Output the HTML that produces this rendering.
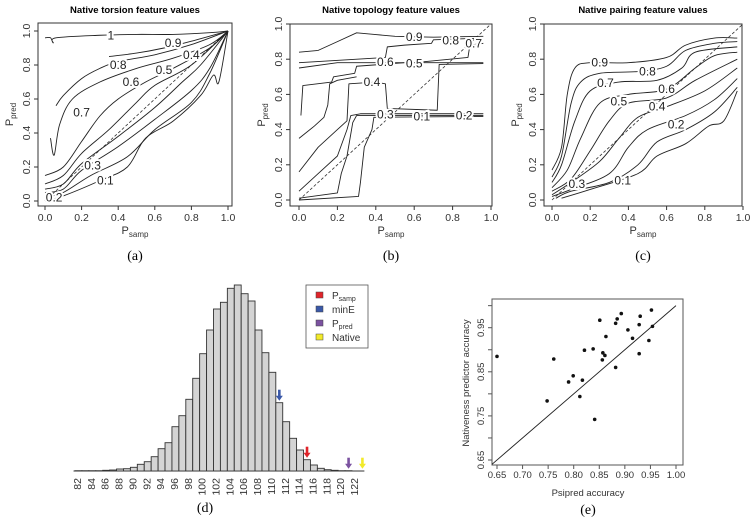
<!DOCTYPE html>
<html><head><meta charset="utf-8"><style>
html,body{margin:0;padding:0;background:#fff;}
svg{display:block;font-family:"Liberation Sans",sans-serif;}
.cap{font-family:"Liberation Serif",serif;font-size:14px;}
</style></head><body>
<svg id="fig" width="753" height="531" viewBox="0 0 753 531"></svg>
<script>
// ---------- DATA ----------
const contourLevelsA = ["1","0.9","0.8","0.7","0.6","0.5","0.4","0.3","0.2","0.1"];
const contourA = [
 [[0,0.96],[0.03,0.96],[0.045,0.93],[0.06,0.96],[0.3,0.975],[0.5,0.98],[0.7,0.98],[0.9,0.99],[1,1]],
 [[0.35,0.85],[0.5,0.87],[0.65,0.9],[0.8,0.94],[1,1]],
 [[0.06,0.56],[0.1,0.62],[0.2,0.72],[0.3,0.78],[0.4,0.82],[0.6,0.86],[0.8,0.92],[1,1]],
 [[0.03,0.37],[0.05,0.27],[0.08,0.45],[0.15,0.6],[0.3,0.7],[0.5,0.78],[0.7,0.84],[0.9,0.92],[1,1]],
 [[0,0.15],[0.1,0.2],[0.2,0.35],[0.3,0.5],[0.4,0.6],[0.55,0.7],[0.7,0.78],[0.9,0.9],[1,1]],
 [[0,0.1],[0.1,0.15],[0.2,0.28],[0.35,0.42],[0.5,0.58],[0.6,0.68],[0.8,0.8],[1,1]],
 [[0,0.07],[0.1,0.1],[0.2,0.22],[0.4,0.38],[0.6,0.55],[0.75,0.7],[0.85,0.8],[1,1]],
 [[0,0.05],[0.1,0.07],[0.2,0.18],[0.4,0.32],[0.6,0.48],[0.8,0.65],[0.9,0.78],[1,1]],
 [[0,0.02],[0.1,0.05],[0.25,0.15],[0.45,0.26],[0.6,0.42],[0.8,0.58],[0.9,0.75],[1,1]],
 [[0,0],[0.1,0.03],[0.3,0.12],[0.45,0.2],[0.55,0.37],[0.7,0.47],[0.85,0.62],[0.92,0.74],[0.95,0.7],[1,1]]
];
const labelPosA = [[0.36,0.975],[0.7,0.93],[0.4,0.8],[0.2,0.52],[0.47,0.7],[0.65,0.77],[0.8,0.86],[0.26,0.21],[0.05,0.02],[0.33,0.12]];

const contourLevelsB = ["0.9","0.8","0.7","0.6","0.5","0.4","0.3","0.1","0.2"];
const contourB = [
 [[0,0.84],[0.1,0.85],[0.2,0.9],[0.3,0.95],[0.4,0.94],[0.5,0.93],[0.7,0.925],[0.96,0.93]],
 [[0,0.78],[0.45,0.81],[0.46,0.87],[0.55,0.88],[0.69,0.89],[0.7,0.91],[0.96,0.92]],
 [[0,0.75],[0.2,0.78],[0.6,0.78],[0.88,0.81],[0.89,0.88],[0.96,0.89]],
 [[0.01,0.48],[0.02,0.65],[0.17,0.67],[0.18,0.7],[0.29,0.72],[0.3,0.76],[0.55,0.78],[0.96,0.78]],
 [[0,0.35],[0.08,0.42],[0.13,0.47],[0.15,0.54],[0.16,0.66],[0.2,0.68],[0.3,0.7]],
 [[0,0.16],[0.1,0.3],[0.2,0.4],[0.25,0.45],[0.26,0.66],[0.4,0.67],[0.45,0.66],[0.46,0.52],[0.72,0.51],[0.73,0.77],[0.96,0.775]],
 [[0,0.05],[0.1,0.15],[0.2,0.25],[0.25,0.4],[0.27,0.48],[0.32,0.49],[0.96,0.49]],
 [[0,0.01],[0.2,0.04],[0.22,0.15],[0.25,0.25],[0.28,0.44],[0.3,0.48],[0.96,0.48]],
 [[0,0.0],[0.31,0.02],[0.32,0.1],[0.34,0.3],[0.38,0.4],[0.39,0.47],[0.96,0.475]]
];
const labelPosB = [[0.6,0.925],[0.79,0.905],[0.91,0.89],[0.45,0.785],[0.6,0.775],[0.38,0.67],[0.45,0.485],[0.64,0.475],[0.86,0.48]];

const contourLevelsC = ["0.9","0.8","0.7","0.6","0.5","0.4","0.3","0.2","0.1"];
const contourC = [
 [[0,0.17],[0.05,0.3],[0.08,0.6],[0.12,0.75],[0.2,0.78],[0.4,0.78],[0.6,0.81],[0.7,0.88],[0.85,0.92],[0.97,0.92]],
 [[0,0.13],[0.05,0.25],[0.1,0.55],[0.15,0.67],[0.25,0.72],[0.45,0.73],[0.6,0.76],[0.7,0.85],[0.85,0.89],[0.97,0.9]],
 [[0,0.1],[0.05,0.2],[0.12,0.45],[0.2,0.62],[0.35,0.67],[0.55,0.68],[0.68,0.75],[0.75,0.84],[0.97,0.87]],
 [[0,0.07],[0.08,0.17],[0.15,0.35],[0.25,0.55],[0.4,0.6],[0.6,0.63],[0.75,0.75],[0.85,0.82],[0.97,0.84]],
 [[0,0.05],[0.1,0.12],[0.2,0.28],[0.3,0.45],[0.4,0.55],[0.6,0.58],[0.75,0.68],[0.97,0.8]],
 [[0,0.03],[0.1,0.1],[0.25,0.22],[0.35,0.35],[0.45,0.47],[0.6,0.53],[0.8,0.62],[0.97,0.75]],
 [[0,0.02],[0.1,0.06],[0.3,0.15],[0.4,0.3],[0.5,0.4],[0.7,0.48],[0.85,0.57],[0.97,0.69]],
 [[0.02,0.01],[0.1,0.05],[0.3,0.1],[0.45,0.2],[0.55,0.33],[0.7,0.4],[0.85,0.5],[0.97,0.64]],
 [[0.05,0.01],[0.2,0.06],[0.45,0.15],[0.55,0.25],[0.7,0.32],[0.82,0.42],[0.9,0.45],[0.97,0.62]]
];
const labelPosC = [[0.25,0.78],[0.5,0.73],[0.28,0.665],[0.6,0.63],[0.35,0.56],[0.55,0.53],[0.13,0.09],[0.65,0.43],[0.37,0.11]];

const histCategories = [82,83,84,85,86,87,88,89,90,91,92,93,94,95,96,97,98,99,100,101,102,103,104,105,106,107,108,109,110,111,112,113,114,115,116,117,118,119,120,121,122,123];
const histCounts = [0.3,0.3,0.3,0.3,0.7,1,2,2.3,3.7,6.7,9.3,14.3,22.3,28.3,44.3,55.3,71.7,92.7,117.3,141,162,168.7,182.7,186,177.3,170,141,118.3,98.7,68.3,49.3,32.7,21,11.3,6,2.7,1.3,0.7,0.3,0.3,0,0];
const histTicks = [82,84,86,88,90,92,94,96,98,100,102,104,106,108,110,112,114,116,118,120,122];
const arrowNames = ["minE","Psamp","Ppred","Native"];
const arrowValues = [111,115,121,123];
const arrowHeights = [68.3,11.3,0.3,0.3];
const arrowColors = ["#3a58a8","#e0242a","#7b52a0","#f2ea2a"];

const scatterX = [0.65,0.748,0.761,0.790,0.799,0.812,0.817,0.821,0.838,0.841,0.851,0.857,0.856,0.861,0.863,0.882,0.882,0.885,0.893,0.906,0.915,0.928,0.930,0.928,0.947,0.952,0.954];
const scatterY = [0.885,0.784,0.879,0.827,0.841,0.794,0.831,0.899,0.902,0.742,0.967,0.893,0.877,0.887,0.930,0.960,0.860,0.970,0.982,0.945,0.926,0.957,0.976,0.891,0.921,0.990,0.953];
const scatterXTicks = ["0.65","0.70","0.75","0.80","0.85","0.90","0.95","1.00"];
const scatterYTicks = ["0.65","0.75","0.85","0.95"];

// ---------- HELPERS ----------
const NS="http://www.w3.org/2000/svg";
const svg=document.getElementById('fig');
function el(tag,attrs,parent,text){const e=document.createElementNS(NS,tag);for(const k in attrs)e.setAttribute(k,attrs[k]);if(text!==undefined)e.textContent=text;(parent||svg).appendChild(e);return e;}
function smoothPath(pts){
  let d='M'+pts[0][0]+','+pts[0][1];
  for(let i=0;i<pts.length-1;i++){
    const p0=pts[Math.max(0,i-1)],p1=pts[i],p2=pts[i+1],p3=pts[Math.min(pts.length-1,i+2)];
    const c1=[p1[0]+(p2[0]-p0[0])/6,p1[1]+(p2[1]-p0[1])/6];
    const c2=[p2[0]-(p3[0]-p1[0])/6,p2[1]-(p3[1]-p1[1])/6];
    d+=` C${c1[0]},${c1[1]} ${c2[0]},${c2[1]} ${p2[0]},${p2[1]}`;
  }
  return d;
}

function contourPanel(cfg){
  const g=el('g',{});
  
  
  const sx=v=>cfg.x0+(cfg.x1-cfg.x0)*v, sy=v=>cfg.y0+(cfg.y1-cfg.y0)*v;
  const t=el('text',{x:(cfg.bl+cfg.br)/2,y:13,'text-anchor':'middle','font-size':'9.5','font-weight':'bold'},g,cfg.title);
  
  
  const box=el('rect',{x:cfg.bl,y:cfg.bt,width:cfg.br-cfg.bl,height:cfg.bb-cfg.bt,fill:'none',stroke:'#333','stroke-width':1},g);
  
  
  const clipId='clip'+cfg.name;
  const cp=el('clipPath',{id:clipId},g);el('rect',{x:cfg.bl,y:cfg.bt,width:cfg.br-cfg.bl,height:cfg.bb-cfg.bt},cp);
  const d=el('line',{x1:sx(0),y1:sy(0),x2:sx(1),y2:sy(1),stroke:'#333','stroke-dasharray':'3,2','stroke-width':0.8,'clip-path':`url(#${clipId})`},g);
  
  
  cfg.curves.forEach((c,i)=>{
    const pts=c.map(q=>[sx(q[0]),sy(q[1])]);
    const p=cfg.smooth
      ? el('path',{d:smoothPath(pts),fill:'none',stroke:'#222','stroke-width':0.9},g)
      : el('polyline',{points:pts.map(q=>q.join(',')).join(' '),fill:'none',stroke:'#222','stroke-width':0.9,'stroke-linejoin':'round'},g);
    
    
  });
  cfg.labels.forEach((q,i)=>{
    const tl=el('text',{x:sx(q[0]),y:sy(q[1])+4,'text-anchor':'middle','font-size':'12',fill:'#222',stroke:'#fff','stroke-width':4,'paint-order':'stroke'},g,cfg.levels[i]);
    
    
  });
  [0,0.2,0.4,0.6,0.8,1].forEach(v=>{
    el('line',{x1:sx(v),y1:cfg.bb,x2:sx(v),y2:cfg.bb+4,stroke:'#333'},g);
    const xl=el('text',{x:sx(v),y:cfg.bb+15,'text-anchor':'middle','font-size':'10.5',fill:'#333'},g,v.toFixed(1));
    
    
    el('line',{x1:cfg.bl,y1:sy(v),x2:cfg.bl-4,y2:sy(v),stroke:'#333'},g);
    const yl=el('text',{x:0,y:0,'text-anchor':'middle','font-size':'10.5',fill:'#333',transform:`translate(${cfg.bl-8},${sy(v)}) rotate(-90)`},g,v.toFixed(1));
    
    
  });
  const xt=el('text',{x:(cfg.bl+cfg.br)/2,y:cfg.bb+28,'text-anchor':'middle','font-size':'11',fill:'#333'},g);
  
  
  xt.innerHTML='P<tspan font-size="8" dy="3">samp</tspan>';
  const yt=el('text',{x:0,y:0,'text-anchor':'middle','font-size':'11',fill:'#333',transform:`translate(${cfg.bl-25},${(cfg.bt+cfg.bb)/2}) rotate(-90)`},g);
  
  
  yt.innerHTML='P<tspan font-size="8" dy="3">pred</tspan>';
  const cap=el('text',{x:(cfg.bl+cfg.br)/2,y:260,'text-anchor':'middle',class:'cap'},g,cfg.cap);
  
  
}

contourPanel({name:'panel-a-torsion',title:'Native torsion feature values',cap:'(a)',bl:38,br:232,bt:23,bb:206,x0:45,x1:228,y0:201,y1:31,curves:contourA,levels:contourLevelsA,labels:labelPosA,smooth:true});
contourPanel({name:'panel-b-topology',title:'Native topology feature values',cap:'(b)',bl:290,br:492,bt:24,bb:206,x0:299,x1:491,y0:200,y1:24,curves:contourB,levels:contourLevelsB,labels:labelPosB,smooth:false});
contourPanel({name:'panel-c-pairing',title:'Native pairing feature values',cap:'(c)',bl:544,br:742,bt:24,bb:206,x0:552,x1:743,y0:200,y1:24,curves:contourC,levels:contourLevelsC,labels:labelPosC,smooth:true});

// ---------- HISTOGRAM ----------
(function(){
  const g=el('g',{});
  
  
  const hx=v=>77+(v-82)*6.925, base=471, hy=c=>base-c;
  el('line',{x1:hx(81.5),y1:base,x2:hx(123.5),y2:base,stroke:'#333','stroke-width':1},g);
  histCategories.forEach((c,i)=>{
    const h=histCounts[i];
    const r=el('rect',{x:hx(c)-2,y:hy(h),width:6.9,height:h,fill:'#d4d4d4',stroke:'#333','stroke-width':0.9},g);
    
    
  });
  histTicks.forEach(t=>{
    const tl=el('text',{x:0,y:0,'text-anchor':'end','font-size':'10.5',fill:'#333',transform:`translate(${hx(t)+4},${478}) rotate(-90)`},g,String(t));
    
    
  });
  arrowValues.forEach((v,i)=>{
    const x=hx(v)+1.5, yb=hy(arrowHeights[i])-2;
    const a=el('g',{},g);
    
    
    el('rect',{x:x-1.3,y:yb-11,width:2.6,height:7,fill:arrowColors[i]},a);
    el('polygon',{points:`${x-3.5},${yb-5} ${x+3.5},${yb-5} ${x},${yb}`,fill:arrowColors[i]},a);
  });
  const lg=el('g',{},g);
  
  
  el('rect',{x:306,y:285,width:62,height:63,fill:'#fff',stroke:'#555','stroke-width':0.8},lg);
  const legendColors=["#e0242a","#3a58a8","#7b52a0","#f2ea2a"];
  const legendLabels=['P<tspan font-size="7" dy="2">samp</tspan>','minE','P<tspan font-size="7" dy="2">pred</tspan>','Native'];
  legendLabels.forEach((l,i)=>{
    const y=297+i*14;
    const e=el('g',{},lg);
    
    
    el('rect',{x:316,y:y-5,width:7,height:6,fill:legendColors[i],stroke:'#444','stroke-width':0.5},e);
    const t=el('text',{x:332,y:y+2,'font-size':'10',fill:'#333'},e);
    t.innerHTML=l;
  });
  const cap=el('text',{x:205,y:512,'text-anchor':'middle',class:'cap'},g,'(d)');
  
  
})();

// ---------- SCATTER ----------
(function(){
  const g=el('g',{});
  
  
  const sx=v=>497+(v-0.65)/0.05*25.57, sy=v=>327.7-(v-0.95)/0.1*44.1;
  const L=492,R=683,T=299,B=465;
  const f=el('rect',{x:L,y:T,width:R-L,height:B-T,fill:'none',stroke:'#555','stroke-width':1},g);
  
  
  const cp=el('clipPath',{id:'clipE'},g);el('rect',{x:L,y:T,width:R-L,height:B-T},cp);
  const dl=el('line',{x1:sx(0.6),y1:sy(0.6),x2:sx(1),y2:sy(1),stroke:'#222','stroke-width':0.9,'clip-path':'url(#clipE)'},g);
  
  
  scatterX.forEach((x,i)=>{
    const c=el('circle',{cx:sx(x),cy:sy(scatterY[i]),r:1.8,fill:'#111'},g);
    
    
  });
  scatterXTicks.forEach(t=>{
    const v=parseFloat(t);
    el('line',{x1:sx(v),y1:B,x2:sx(v),y2:B+4,stroke:'#555'},g);
    const tl=el('text',{x:sx(v),y:B+13,'text-anchor':'middle','font-size':'9.5',fill:'#333'},g,t);
    
    
  });
  for(let k=0;k<8;k++){const v=0.65+k*0.05;el('line',{x1:L,y1:sy(v),x2:L-4,y2:sy(v),stroke:'#555'},g);}
  scatterYTicks.forEach(t=>{
    const v=parseFloat(t);
    const tl=el('text',{x:0,y:0,'text-anchor':'middle','font-size':'9.5',fill:'#333',transform:`translate(${L-8},${sy(v)}) rotate(-90)`},g,t);
    
    
  });
  const xt=el('text',{x:588,y:496,'text-anchor':'middle','font-size':'9.5',fill:'#333'},g,'Psipred accuracy');
  
  
  const yt=el('text',{x:0,y:0,'text-anchor':'middle','font-size':'9.5',fill:'#333',transform:'translate(469,383) rotate(-90)'},g,'Nativeness predictor accuracy');
  
  
  const cap=el('text',{x:588,y:514,'text-anchor':'middle',class:'cap'},g,'(e)');
  
  
})();
</script>
</body></html>
